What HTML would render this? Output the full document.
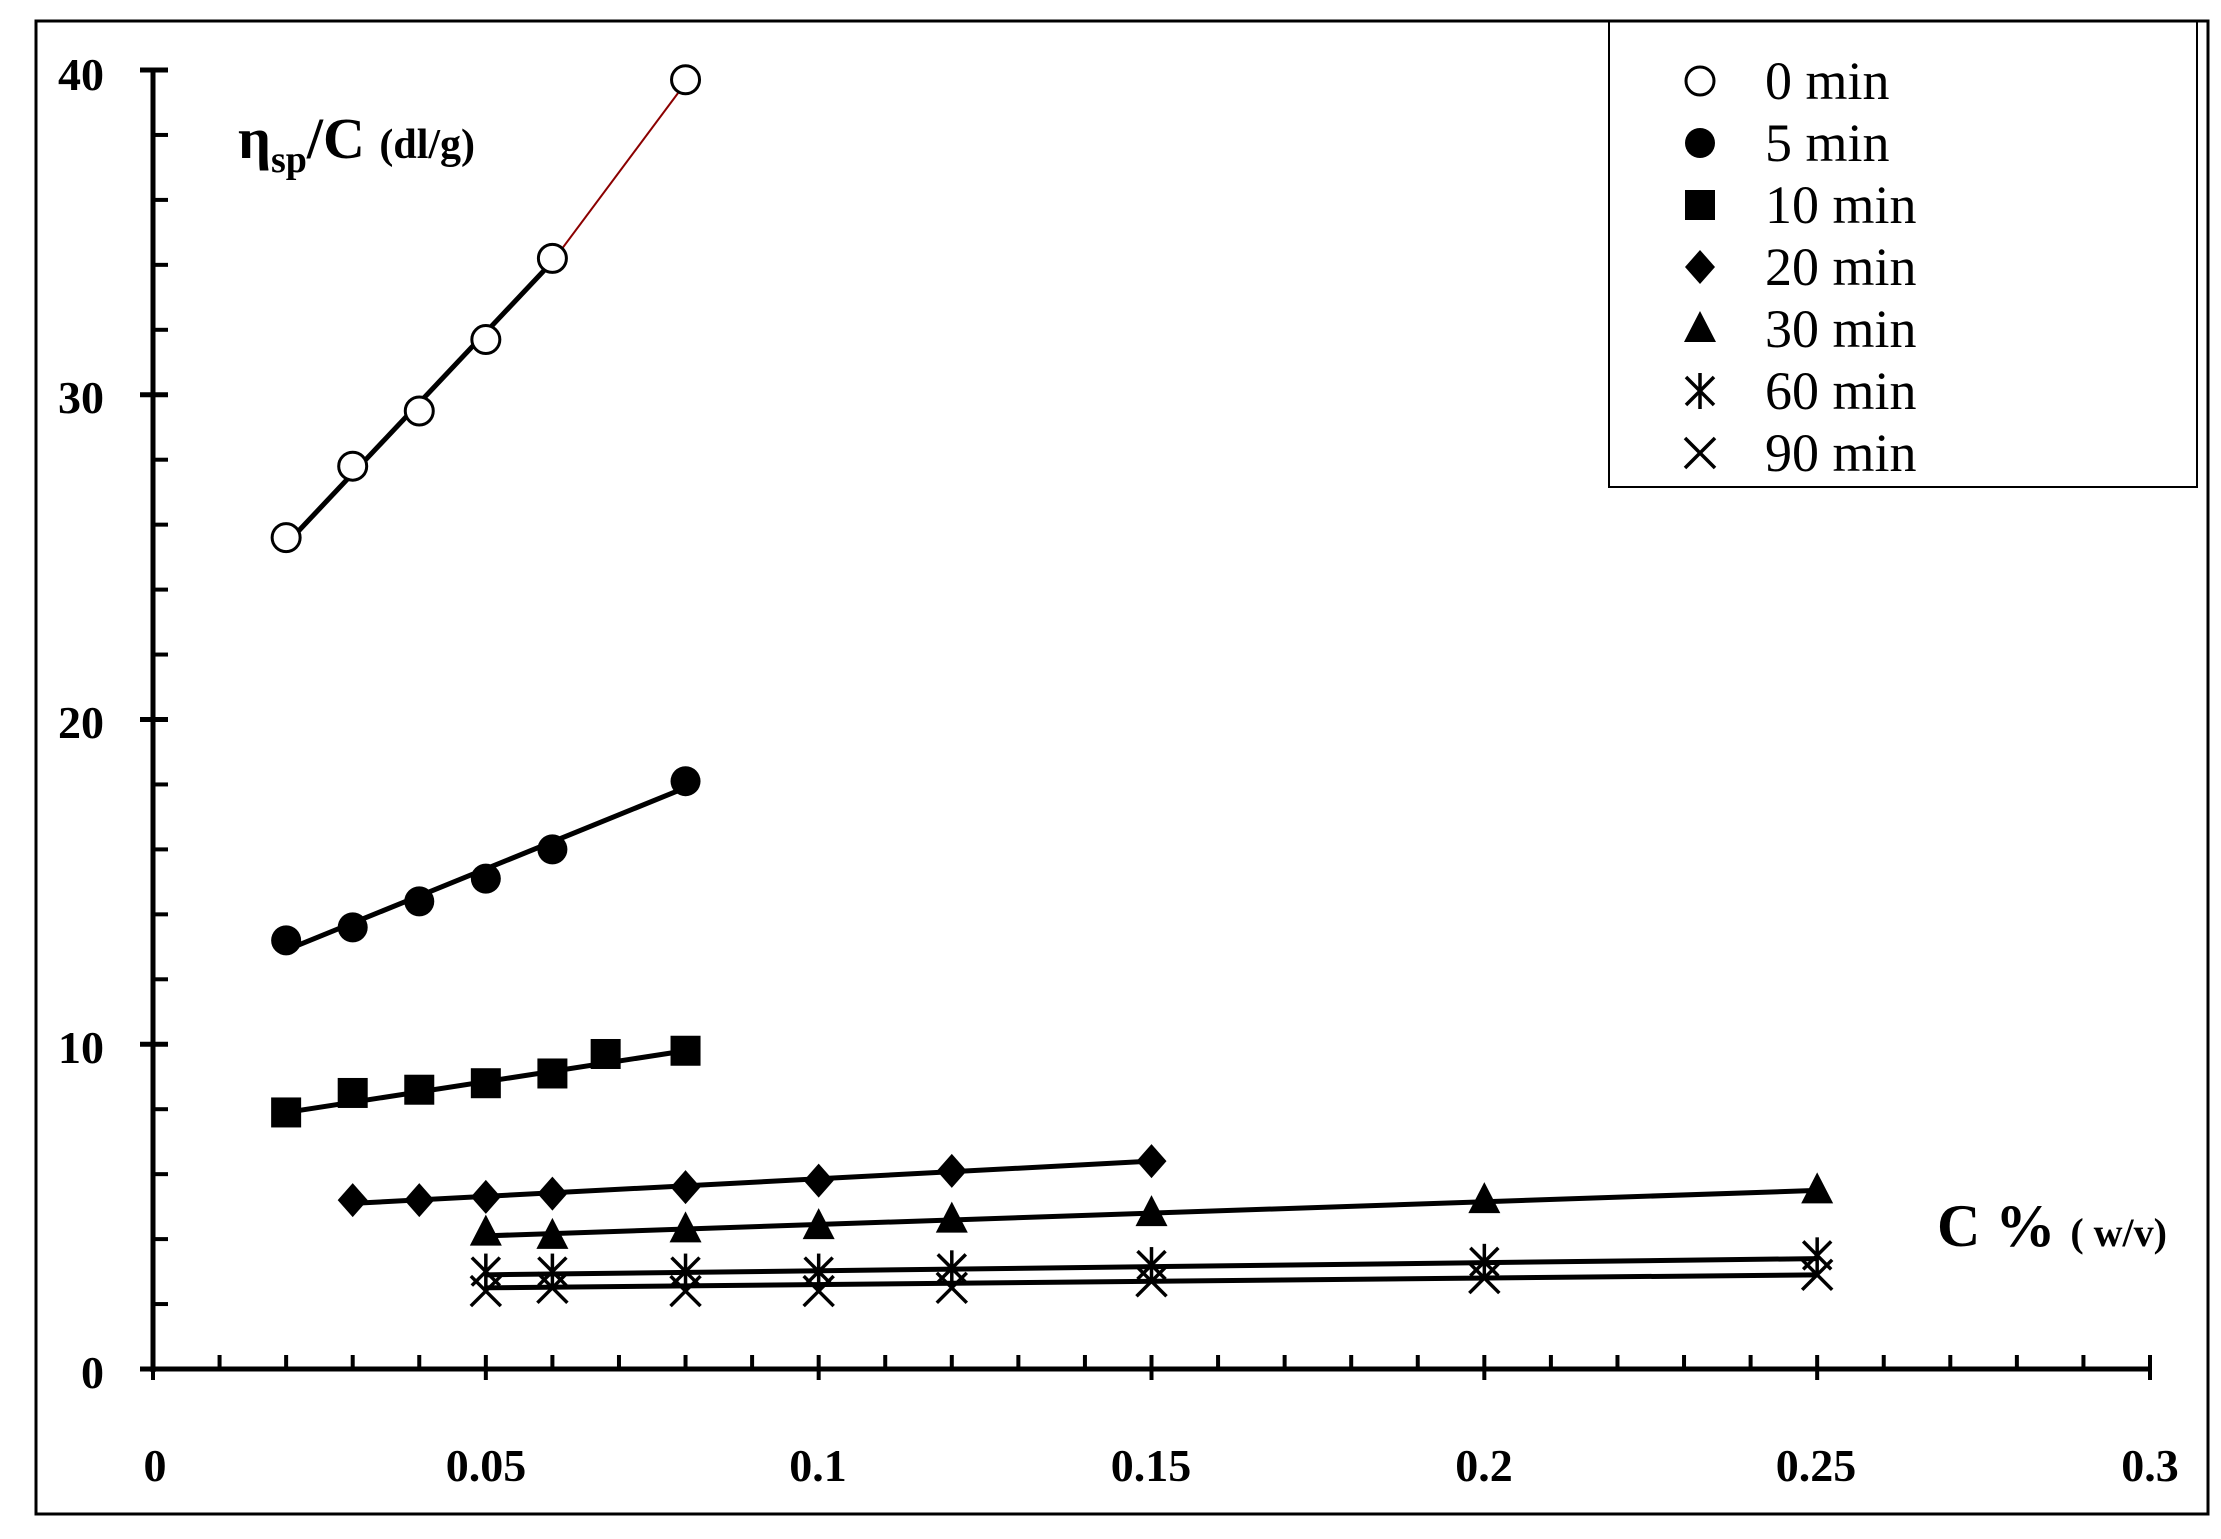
<!DOCTYPE html>
<html><head><meta charset="utf-8"><style>
html,body{margin:0;padding:0;background:#fff}
svg{display:block}
text{font-family:"Liberation Serif",serif;fill:#000}
</style></head><body>
<svg id="s" width="2221" height="1539" viewBox="0 0 2221 1539" xmlns="http://www.w3.org/2000/svg">
<rect x="36" y="21" width="2172" height="1493" fill="none" stroke="#000" stroke-width="3"/>
<rect x="1609" y="21" width="588" height="466" fill="none" stroke="#000" stroke-width="2"/>
<g font-weight="bold" font-size="46" text-anchor="end">
<text x="104" y="1388">0</text>
<text x="104" y="1063">10</text>
<text x="104" y="738">20</text>
<text x="104" y="413">30</text>
<text x="104" y="90">40</text>
</g>
<g font-weight="bold" font-size="46" text-anchor="middle">
<text x="155" y="1481">0</text>
<text x="486" y="1481">0.05</text>
<text x="818" y="1481">0.1</text>
<text x="1151" y="1481">0.15</text>
<text x="1484" y="1481">0.2</text>
<text x="1816" y="1481">0.25</text>
<text x="2150" y="1481">0.3</text>
</g>
<text x="238" y="158" font-size="58" font-weight="bold">η<tspan font-size="38" dy="14">sp</tspan><tspan dy="-14">/C </tspan><tspan font-size="42">(dl/g)</tspan></text>
<text x="1937" y="1246" font-size="60" font-weight="bold">C % <tspan font-size="40">( w/v)</tspan></text>
<g font-size="54">
<text x="1765" y="99">0 min</text>
<text x="1765" y="161">5 min</text>
<text x="1765" y="223">10 min</text>
<text x="1765" y="285">20 min</text>
<text x="1765" y="347">30 min</text>
<text x="1765" y="409">60 min</text>
<text x="1765" y="471">90 min</text>
</g>
<g id="g"></g>
</svg>
<script>
var g=document.getElementById('g'),h='';
function X(x){return 153+x*1997/0.3}
function Y(y){return 1369-y*32.475}
function L(x1,y1,x2,y2,w,c){h+='<line x1="'+x1+'" y1="'+y1+'" x2="'+x2+'" y2="'+y2+'" stroke="'+(c||'#000')+'" stroke-width="'+w+'"/>';}
L(153,68,153,1372,5);L(150,1369,2152,1369,5);
for(var i=0;i<=40;i+=2){var y=Y(i);if(i%10==0)L(140,y,168,y,5);else L(153,y,168,y,4);}
for(var i=0;i<=30;i++){var x=X(i/100);if(i%5==0)L(x,1355,x,1380,4);else L(x,1355,x,1369,4);}
function M(t,cx,cy){var r=14;
 if(t==0)h+='<circle cx="'+cx+'" cy="'+cy+'" r="'+r+'" fill="#fff" stroke="#000" stroke-width="3"/>';
 if(t==1)h+='<circle cx="'+cx+'" cy="'+cy+'" r="'+(r+1)+'" fill="#000"/>';
 if(t==2)h+='<rect x="'+(cx-15)+'" y="'+(cy-15)+'" width="30" height="30" fill="#000"/>';
 if(t==3)h+='<polygon points="'+cx+','+(cy-17)+' '+(cx+15)+','+cy+' '+cx+','+(cy+17)+' '+(cx-15)+','+cy+'" fill="#000"/>';
 if(t==4)h+='<polygon points="'+cx+','+(cy-18)+' '+(cx+16)+','+(cy+13)+' '+(cx-16)+','+(cy+13)+'" fill="#000"/>';
 if(t==5){L(cx-14,cy-14,cx+14,cy+14,3.5);L(cx-14,cy+14,cx+14,cy-14,3.5);L(cx,cy-18,cx,cy+18,3.5);}
 if(t==6){L(cx-15,cy-15,cx+15,cy+15,3.5);L(cx-15,cy+15,cx+15,cy-15,3.5);}
}
var S=[
 [[.02,25.6],[.03,27.8],[.04,29.5],[.05,31.7],[.06,34.2],[.08,39.7]],
 [[.02,13.2],[.03,13.6],[.04,14.4],[.05,15.1],[.06,16.0],[.08,18.1]],
 [[.02,7.9],[.03,8.5],[.04,8.6],[.05,8.8],[.06,9.1],[.068,9.7],[.08,9.8]],
 [[.03,5.2],[.04,5.2],[.05,5.3],[.06,5.4],[.08,5.6],[.1,5.8],[.12,6.1],[.15,6.4]],
 [[.05,4.2],[.06,4.1],[.08,4.3],[.1,4.4],[.12,4.6],[.15,4.8],[.2,5.2],[.25,5.5]],
 [[.05,3.0],[.06,3.0],[.08,3.0],[.1,3.0],[.12,3.1],[.15,3.2],[.2,3.3],[.25,3.5]],
 [[.05,2.4],[.06,2.5],[.08,2.4],[.1,2.4],[.12,2.5],[.15,2.7],[.2,2.8],[.25,2.9]]];
L(X(.02),Y(25.4),X(.06),Y(34.1),5);L(X(.06),Y(34.1),X(.08),Y(39.6),2,'#8b0000');
L(X(.02),Y(12.9),X(.08),Y(17.9),5);
L(X(.02),Y(7.9),X(.08),Y(9.8),5);
L(X(.03),Y(5.1),X(.15),Y(6.4),5);
L(X(.05),Y(4.1),X(.25),Y(5.5),5);
L(X(.05),Y(2.9),X(.25),Y(3.4),5);
L(X(.05),Y(2.5),X(.25),Y(2.9),5);
for(var k=0;k<7;k++){S[k].forEach(function(p){M(k,X(p[0]),Y(p[1]));});M(k,1700,81+k*62);}
g.innerHTML=h;
</script>
</body></html>
